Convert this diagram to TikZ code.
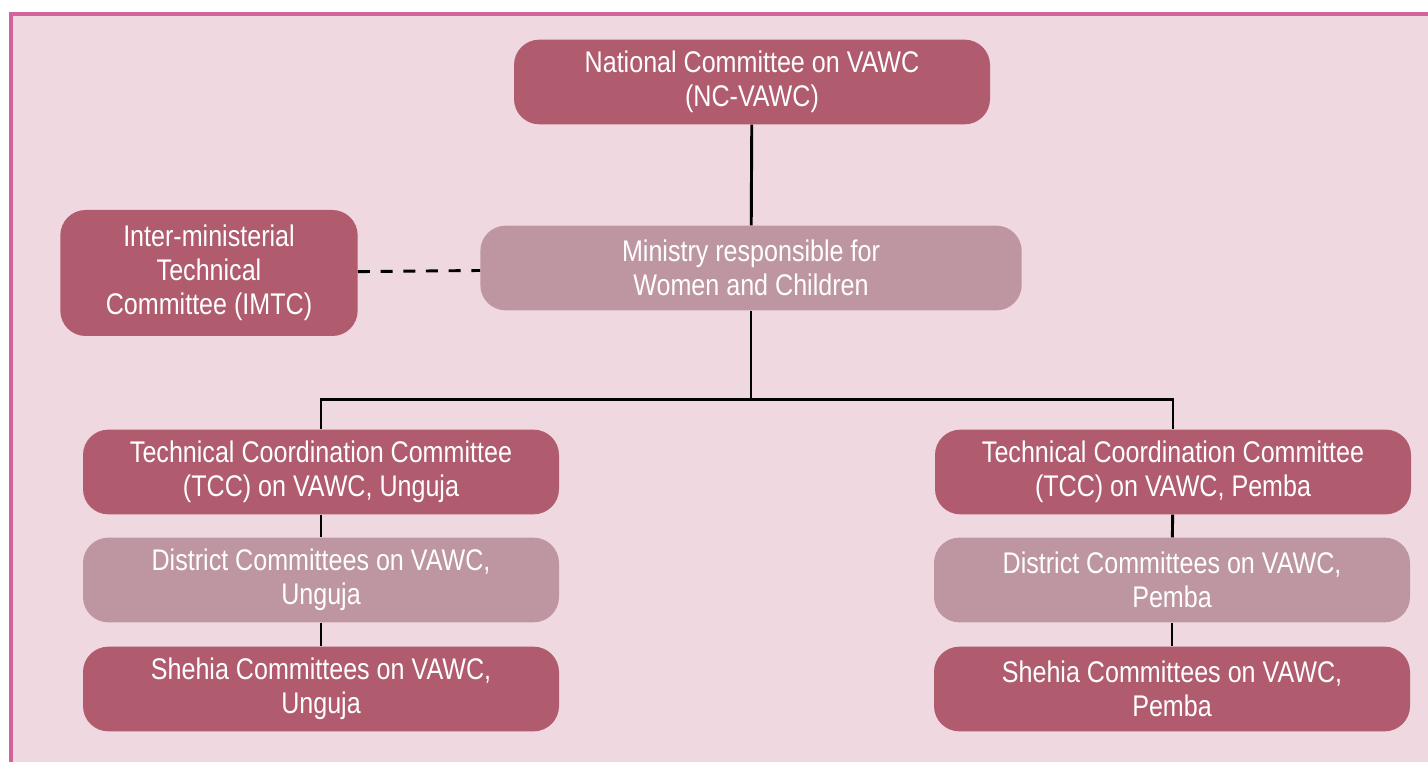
\documentclass[tikz,border=0pt]{standalone}
\usepackage{fontspec}
\setmainfont[FakeStretch=0.84]{Liberation Sans}
\usetikzlibrary{positioning}
\usetikzlibrary{calc}
\definecolor{frameBorder}{HTML}{D2649C}
\definecolor{frameFill}{HTML}{EFD8E0}
\definecolor{darkBox}{HTML}{B05C6E}
\definecolor{lightBox}{HTML}{BE96A2}

\begin{document}
\begin{tikzpicture}[x=0.75pt,y=-0.75pt]
			\tikzstyle{box}=[rectangle, rounded corners=19pt, text=white, align=center, font=\fontsize{22.4}{25.5}\selectfont, minimum width=357pt, minimum height=63.5pt, inner sep=0pt]
			\tikzstyle{dark}=[box, fill=darkBox]
			\tikzstyle{light}=[box, fill=lightBox]
			\tikzstyle{link}=[draw, line width=2.2pt]
			\useasboundingbox (0,0) rectangle (1428,762);
			\fill[white] (0,0) rectangle (1428,762);
			\draw[fill=frameFill, draw=frameBorder, line width=2.8pt] (11,14) rectangle (1445,780);

			\node[dark, minimum width=357pt] at (752, 82) (nationalCommittee) {National Committee on VAWC\\(NC-VAWC)};
			\node[light, minimum width=406pt] at (751, 268) (ministry) {Ministry responsible for\\Women and Children};
			\node[dark, minimum width=223pt, minimum height=94.5pt] at (209, 273) (imtc) {Inter-ministerial\\Technical\\Committee (IMTC)};
	  		\path[link] (nationalCommittee) -- (ministry);
	  		\path[link, dashed, dash pattern=on 9pt off 8pt] (imtc) -- (ministry);

			\node[dark] at (321, 472) (tccUnguja) {Technical Coordination Committee\\(TCC) on VAWC, Unguja};
			\node[light] at (321, 580) (districtUnguja) {District Committees on VAWC,\\Unguja};
			\node[dark] at (321, 689) (shehiaUnguja) {Shehia Committees on VAWC,\\Unguja};

			\node[dark] at (1173, 472) (tccPemba) {Technical Coordination Committee\\(TCC) on VAWC, Pemba};
			\node[light] at (1172, 580) (districtPemba) {District Committees on VAWC,\\Pemba};
			\node[dark] at (1172, 689) (shehiaPemba) {Shehia Committees on VAWC,\\Pemba};

			\coordinate (branchPoint) at ($(ministry.south)+(0,89)$);
	  		\path[link] (ministry.south) -- (branchPoint);
	  		\path[link] (tccUnguja.north) |- (branchPoint) -| (tccPemba.north);
	  		\path[link] (tccUnguja) -- (districtUnguja);
	  		\path[link] (districtUnguja) -- (shehiaUnguja);
	  		\path[link] (tccPemba) -- (districtPemba);
	  		\path[link] (districtPemba) -- (shehiaPemba);
		\end{tikzpicture}
\end{document}
